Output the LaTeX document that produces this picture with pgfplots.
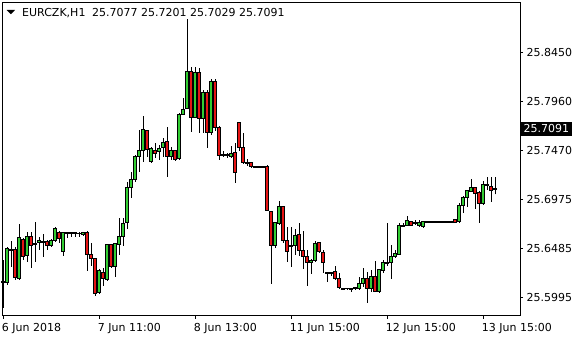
\documentclass[border=0pt]{standalone}
\usepackage{pgfplots}
\pgfplotsset{compat=1.18}
\usepackage{pgfplotstable}
\usepackage{fontspec}
\setmainfont{DejaVu Sans}
\definecolor{upc}{RGB}{50,205,50}
\definecolor{downc}{RGB}{230,20,20}

\pgfplotstableread{
i o h l c
0 25.6143 25.6373 25.5893 25.6153
1 25.6143 25.6503 25.6123 25.6483
2 25.6473 25.6563 25.6303 25.6468
3 25.6473 25.6503 25.6173 25.6193
4 25.6183 25.6733 25.6173 25.6593
5 25.6573 25.6593 25.6373 25.6403
6 25.6413 25.6653 25.6353 25.6603
7 25.6603 25.6653 25.6293 25.6513
8 25.6533 25.6753 25.6353 25.6523
9 25.6543 25.6603 25.6473 25.6563
10 25.6553 25.6633 25.6403 25.6548
11 25.6553 25.6573 25.6473 25.6513
12 25.6513 25.6583 25.6503 25.6563
13 25.6563 25.6703 25.6553 25.6683
14 25.6643 25.6663 25.6543 25.6583
15 25.6453 25.6653 25.6413 25.6643
16 25.6643 25.6653 25.6593 25.6638
17 25.6638 25.6653 25.6603 25.6643
18 25.6643 25.6653 25.6603 25.6638
19 25.6633 25.6653 25.6603 25.6633
20 25.6623 25.6643 25.6613 25.6643
21 25.6643 25.6663 25.6263 25.6423
22 25.6423 25.6543 25.6313 25.6383
23 25.6383 25.6393 25.6013 25.6033
24 25.6043 25.6283 25.6033 25.6263
25 25.6243 25.6293 25.6113 25.6183
26 25.6173 25.6533 25.6163 25.6523
27 25.6523 25.6533 25.6293 25.6303
28 25.6303 25.6543 25.6203 25.6533
29 25.6523 25.6793 25.6423 25.6603
30 25.6603 25.6793 25.6513 25.6733
31 25.6743 25.7153 25.6683 25.7093
32 25.7093 25.7253 25.6993 25.7173
33 25.7173 25.7423 25.7153 25.7403
34 25.7403 25.7673 25.7253 25.7463
35 25.7463 25.7813 25.7353 25.7673
36 25.7663 25.7673 25.7403 25.7473
37 25.7353 25.7503 25.7343 25.7483
38 25.7463 25.7543 25.7393 25.7433
39 25.7453 25.7523 25.7373 25.7483
40 25.7493 25.7593 25.7403 25.7543
41 25.7553 25.7703 25.7203 25.7403
42 25.7403 25.7503 25.7373 25.7463
43 25.7463 25.7473 25.7363 25.7373
44 25.7383 25.7843 25.7373 25.7833
45 25.7833 25.7993 25.7823 25.7883
46 25.7893 25.8783 25.7893 25.8263
47 25.8263 25.8303 25.7653 25.7803
48 25.7803 25.8303 25.7793 25.8253
49 25.8253 25.8293 25.7643 25.7793
50 25.7793 25.8073 25.7643 25.8053
51 25.8053 25.8073 25.7493 25.7643
52 25.7643 25.8183 25.7623 25.8163
53 25.8163 25.8183 25.7663 25.7693
54 25.7693 25.7713 25.7373 25.7413
55 25.7423 25.7463 25.7403 25.7418
56 25.7423 25.7443 25.7393 25.7413
57 25.7403 25.7513 25.7393 25.7433
58 25.7443 25.7543 25.7143 25.7243
59 25.7743 25.7753 25.7463 25.7493
60 25.7493 25.7643 25.7333 25.7343
61 25.7343 25.7383 25.7313 25.7338
62 25.7343 25.7343 25.7293 25.7303
63 25.7303 25.7303 25.7293 25.7298
64 25.7298 25.7303 25.7293 25.7303
65 25.7303 25.7313 25.7293 25.7298
66 25.7303 25.7323 25.6863 25.6863
67 25.6853 25.6863 25.6133 25.6513
68 25.6513 25.6753 25.6493 25.6743
69 25.6733 25.6963 25.6723 25.6903
70 25.6903 25.6913 25.6543 25.6563
71 25.6563 25.6703 25.6353 25.6453
72 25.6513 25.6703 25.6303 25.6508
73 25.6513 25.6683 25.6423 25.6613
74 25.6623 25.6743 25.6413 25.6463
75 25.6463 25.6663 25.6283 25.6403
76 25.6403 25.6473 25.6113 25.6343
77 25.6343 25.6383 25.6233 25.6363
78 25.6363 25.6563 25.6353 25.6533
79 25.6543 25.6553 25.6443 25.6453
80 25.6443 25.6473 25.6243 25.6343
81 25.6243 25.6243 25.6153 25.6238
82 25.6243 25.6243 25.6213 25.6238
83 25.6253 25.6313 25.6173 25.6183
84 25.6183 25.6243 25.6083 25.6093
85 25.6083 25.6093 25.6073 25.6078
86 25.6083 25.6093 25.6073 25.6083
87 25.6083 25.6083 25.6053 25.6078
88 25.6093 25.6103 25.6073 25.6088
89 25.6083 25.6203 25.6073 25.6133
90 25.6133 25.6293 25.6103 25.6183
91 25.6183 25.6253 25.5943 25.6083
92 25.6083 25.6273 25.6053 25.6203
93 25.6203 25.6363 25.6053 25.6053
94 25.6053 25.6283 25.6043 25.6273
95 25.6263 25.6373 25.6243 25.6343
96 25.6343 25.6743 25.6313 25.6338
97 25.6343 25.6523 25.6183 25.6403
98 25.6403 25.6473 25.6393 25.6433
99 25.6423 25.6743 25.6423 25.6713
100 25.6713 25.6743 25.6703 25.6708
101 25.6713 25.6813 25.6713 25.6763
102 25.6753 25.6753 25.6713 25.6713
103 25.6743 25.6773 25.6723 25.6738
104 25.6713 25.6773 25.6703 25.6743
105 25.6703 25.6763 25.6693 25.6753
106 25.6753 25.6753 25.6743 25.6748
107 25.6748 25.6753 25.6743 25.6753
108 25.6753 25.6753 25.6743 25.6748
109 25.6748 25.6753 25.6743 25.6753
110 25.6753 25.6753 25.6743 25.6748
111 25.6748 25.6753 25.6743 25.6753
112 25.6753 25.6763 25.6743 25.6748
113 25.6773 25.6783 25.6748 25.6748
114 25.6753 25.6943 25.6743 25.6913
115 25.6913 25.7013 25.6843 25.6993
116 25.6993 25.7073 25.6903 25.7063
117 25.7053 25.7183 25.7053 25.7093
118 25.7093 25.7103 25.6883 25.7033
119 25.7043 25.7063 25.6743 25.6933
120 25.6933 25.7163 25.6923 25.7123
121 25.7123 25.7203 25.7073 25.7118
122 25.7103 25.7203 25.6953 25.7063
123 25.7077 25.7201 25.7029 25.7091
}\candles

\pgfplotsset{
  nomark/.style={only marks, mark=*, mark size=0pt, mark options={draw=none, fill=none}},
}

\begin{document}
\begin{tikzpicture}
\begin{axis}[
  scale only axis, width=517.5bp, height=313bp,
  xmin=-0.2, xmax=129.2, ymin=25.5813, ymax=25.8947,
  axis line style={black, line width=1bp},
  font=\fontsize{11bp}{13bp}\selectfont,
  /pgf/number format/assume math mode=true,
  xtick={0,24,48,72,96,120},
  xticklabels={6 Jun 2018, 7 Jun 11:00, 8 Jun 13:00, 11 Jun 15:00, 12 Jun 15:00, 13 Jun 15:00},
  ytick={25.5995,25.6485,25.6975,25.7470,25.7960,25.8450},
  yticklabels={25.5995,25.6485,25.6975,25.7470,25.7960,25.8450},
  xtick pos=left, ytick pos=right, tick align=outside,
  major tick length=3bp, tick style={black, line width=1bp},
  xticklabel style={anchor=north west, inner sep=0pt, xshift=-1.5bp, yshift=-4bp},
  yticklabel style={anchor=west, inner sep=0pt, xshift=3.5bp},
  clip=true,
]
% wicks
\addplot[nomark, error bars/.cd, y dir=plus, y explicit, error mark=none,
  error bar style={black, line width=1bp}]
  table[x=i, y=l, y error plus expr=\thisrow{h}-\thisrow{l}] {\candles};
% bodies (up)
\addplot[nomark, restrict expr to domain={\thisrow{c}-\thisrow{o}}{0.00001:1},
  error bars/.cd, y dir=plus, y explicit, error mark=none,
  error bar style={black, line width=3.6bp}]
  table[x=i, y=o, y error plus expr=\thisrow{c}-\thisrow{o}] {\candles};
\addplot[nomark, restrict expr to domain={\thisrow{c}-\thisrow{o}}{0.00001:1},
  error bars/.cd, y dir=plus, y explicit, error mark=none,
  error bar style={upc, line width=1.8bp}]
  table[x=i, y=o, y error plus expr=\thisrow{c}-\thisrow{o}] {\candles};
% bodies (down)
\addplot[nomark, restrict expr to domain={\thisrow{o}-\thisrow{c}}{0.00001:1},
  error bars/.cd, y dir=plus, y explicit, error mark=none,
  error bar style={black, line width=3.6bp}]
  table[x=i, y=c, y error plus expr=\thisrow{o}-\thisrow{c}] {\candles};
\addplot[nomark, restrict expr to domain={\thisrow{o}-\thisrow{c}}{0.00001:1},
  error bars/.cd, y dir=plus, y explicit, error mark=none,
  error bar style={downc, line width=1.8bp}]
  table[x=i, y=c, y error plus expr=\thisrow{o}-\thisrow{c}] {\candles};
% body top/bottom edges
\addplot[only marks, mark=-, mark size=1.8bp, mark options={black, line width=0.9bp}]
  table[x=i, y=o] {\candles};
\addplot[only marks, mark=-, mark size=1.8bp, mark options={black, line width=0.9bp}]
  table[x=i, y=c] {\candles};
\end{axis}
% title
\fill[black] ([xshift=4.2bp,yshift=-7.3bp]current axis.north west) -- ++(8.3bp,0) -- ++(-4.15bp,-4.2bp) -- cycle;
\node[anchor=base west, inner sep=0pt, font=\fontsize{11bp}{13bp}\selectfont]
  at ([xshift=19.5bp,yshift=-14bp]current axis.north west) {EURCZK,H1};
\node[anchor=base west, inner sep=0pt, font=\fontsize{11bp}{13bp}\selectfont]
  at ([xshift=89.5bp,yshift=-14bp]current axis.north west) {25.7077 25.7201 25.7029 25.7091};
% current price label
\node[anchor=west, fill=black, text=white, inner xsep=2.5bp, inner ysep=0pt, minimum height=14bp,
  font=\fontsize{11bp}{13bp}\selectfont]
  at ([xshift=1bp,yshift=-126.1bp]current axis.north east) {25.7091};
\pgfresetboundingbox
\path ([xshift=-2.5bp,yshift=-24.3bp]current axis.south west) rectangle ++(580bp,340bp);
\end{tikzpicture}
\end{document}
